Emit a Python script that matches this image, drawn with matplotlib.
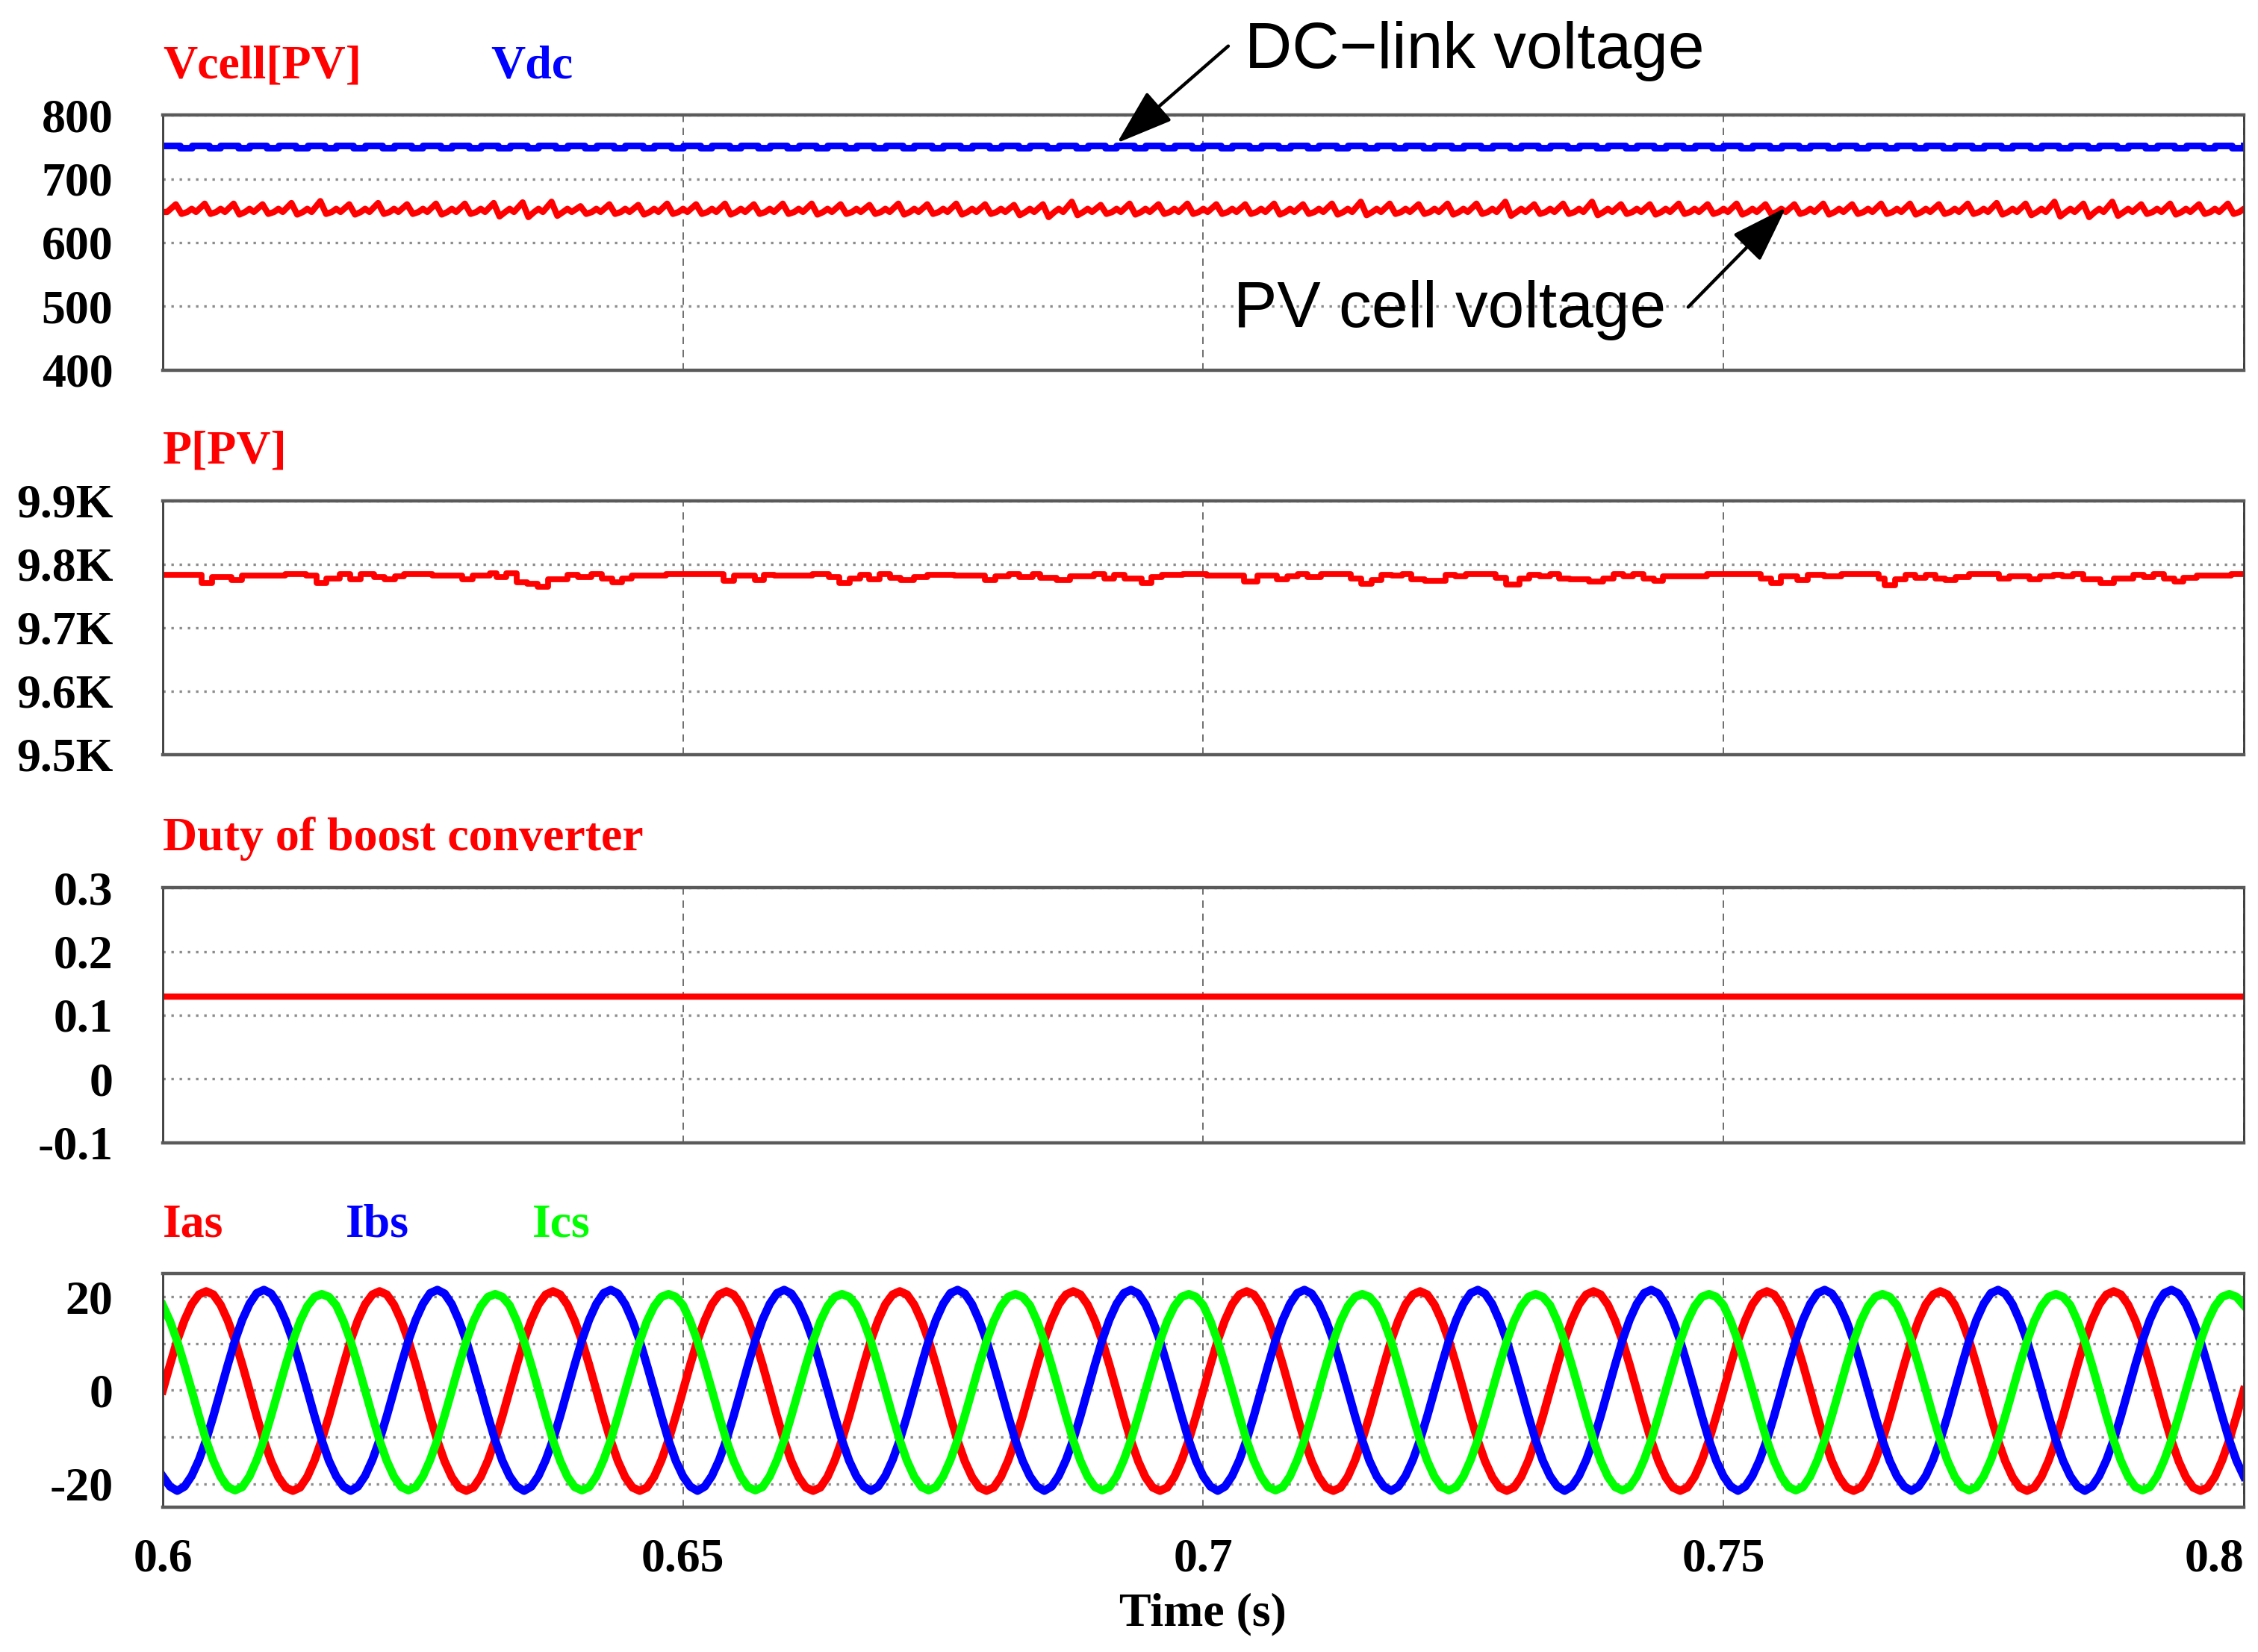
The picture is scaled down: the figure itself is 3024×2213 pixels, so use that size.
import numpy as np
import matplotlib
matplotlib.use("Agg")
import matplotlib.pyplot as plt

# Time window of the simulation plot
T_START = 0.6
T_END = 0.8
x_ticks = [0.6, 0.65, 0.7, 0.75, 0.8]
x_labels = ["0.6", "0.65", "0.7", "0.75", "0.8"]

# --- panel 1: DC-link and PV cell voltage (360 Hz ripple, one entry per ripple period)
RIPPLE_HZ = 360
vdc_levels = [751.5, 748.5]          # crenellated DC-link voltage
vcell_base = 648
vcell_bump = 653
vcell_first_peak = 0.60125
vcell_peak = [660, 661, 661, 660, 662, 665, 660, 662, 660, 661, 661, 662,
              663, 664, 657, 660, 659, 661, 660, 661, 660, 661, 661, 660,
              659, 661, 660, 661, 660, 659, 660, 664, 659, 661, 660, 661,
              660, 660, 661, 660, 661, 664, 661, 660, 661, 661, 664, 660,
              661, 664, 660, 660, 661, 660, 661, 660, 660, 661, 660, 661,
              661, 660, 661, 662, 661, 664, 661, 664, 660, 661, 660, 661]
vcell_dip = [645, 645, 644, 645, 644, 645, 644, 645, 645, 644, 645, 641,
             640, 642, 645, 645, 644, 645, 645, 644, 645, 645, 644, 645,
             645, 644, 645, 644, 645, 643, 640, 643, 645, 644, 645, 645,
             645, 645, 644, 645, 644, 643, 645, 645, 644, 645, 642, 645,
             645, 643, 645, 644, 645, 645, 644, 645, 645, 644, 645, 645,
             644, 645, 645, 644, 643, 641, 640, 642, 645, 644, 645, 645]
v_ticks = [400, 500, 600, 700, 800]

# annotation arrows (tail -> tip, data coordinates of panel 1)
dc_arrow_tail = (0.7024, 908)
dc_arrow_tip = (0.6917, 756)
dc_text_pos = (0.7040, 900)
pv_arrow_tail = (0.7466, 499)
pv_arrow_tip = (0.7560, 655)
pv_text_pos = (0.7445, 494)

# --- panel 2: PV power (step output of the MPPT sampler)
p_time = [0.6000, 0.6037, 0.6047, 0.6066, 0.6076, 0.6118, 0.6138, 0.6148, 0.6157, 0.6170,
          0.6180, 0.6190, 0.6203, 0.6213, 0.6223, 0.6232, 0.6259, 0.6288, 0.6298, 0.6314,
          0.6321, 0.6330, 0.6340, 0.6350, 0.6360, 0.6370, 0.6389, 0.6399, 0.6412, 0.6422,
          0.6432, 0.6441, 0.6451, 0.6484, 0.6539, 0.6549, 0.6569, 0.6578, 0.6588, 0.6624,
          0.6640, 0.6650, 0.6660, 0.6670, 0.6679, 0.6689, 0.6699, 0.6709, 0.6722, 0.6735,
          0.6761, 0.6790, 0.6800, 0.6813, 0.6823, 0.6836, 0.6843, 0.6859, 0.6872, 0.6895,
          0.6905, 0.6914, 0.6924, 0.6941, 0.6950, 0.6960, 0.6980, 0.7003, 0.7039, 0.7052,
          0.7071, 0.7081, 0.7091, 0.7100, 0.7113, 0.7142, 0.7152, 0.7162, 0.7171, 0.7181,
          0.7191, 0.7200, 0.7213, 0.7233, 0.7242, 0.7252, 0.7281, 0.7291, 0.7304, 0.7313,
          0.7323, 0.7333, 0.7342, 0.7352, 0.7371, 0.7384, 0.7394, 0.7404, 0.7413, 0.7423,
          0.7433, 0.7442, 0.7484, 0.7536, 0.7546, 0.7555, 0.7571, 0.7581, 0.7597, 0.7613,
          0.7649, 0.7655, 0.7665, 0.7675, 0.7684, 0.7694, 0.7704, 0.7713, 0.7723, 0.7736,
          0.7765, 0.7775, 0.7794, 0.7804, 0.7817, 0.7826, 0.7836, 0.7846, 0.7862, 0.7875,
          0.7894, 0.7904, 0.7913, 0.7923, 0.7933, 0.7942, 0.7955, 0.7988, 0.8000]
p_watt = [9784, 9771, 9780, 9775, 9782, 9785, 9782, 9770, 9778, 9785,
          9776, 9785, 9780, 9776, 9781, 9785, 9782, 9776, 9782, 9786,
          9780, 9786, 9772, 9769, 9765, 9776, 9784, 9780, 9785, 9778,
          9772, 9778, 9782, 9785, 9774, 9782, 9775, 9784, 9782, 9785,
          9780, 9770, 9778, 9784, 9776, 9785, 9779, 9775, 9780, 9784,
          9782, 9775, 9781, 9785, 9780, 9785, 9779, 9775, 9781, 9785,
          9778, 9783, 9778, 9770, 9780, 9783, 9785, 9782, 9773, 9782,
          9777, 9781, 9785, 9780, 9785, 9778, 9769, 9775, 9784, 9782,
          9785, 9777, 9774, 9784, 9781, 9785, 9779, 9768, 9778, 9784,
          9781, 9785, 9778, 9776, 9773, 9778, 9785, 9781, 9785, 9778,
          9774, 9781, 9785, 9778, 9770, 9781, 9775, 9784, 9781, 9785,
          9778, 9767, 9777, 9783, 9779, 9784, 9778, 9775, 9780, 9785,
          9778, 9781, 9776, 9781, 9784, 9781, 9785, 9776, 9770, 9778,
          9784, 9780, 9785, 9778, 9773, 9779, 9782, 9785, 9785]
p_ticks = [9500, 9600, 9700, 9800, 9900]
p_labels = ["9.5K", "9.6K", "9.7K", "9.8K", "9.9K"]

# --- panel 3: boost converter duty
duty_value = 0.129
d_ticks = [-0.1, 0, 0.1, 0.2, 0.3]
d_labels = ["-0.1", "0", "0.1", "0.2", "0.3"]

# --- panel 4: grid currents, one 60 Hz period (24 samples)
GRID_HZ = 60
N_CYCLES = 12
ias_cycle = [0, 5.5, 10.7, 15.0, 18.4, 20.5, 21.2, 20.5, 18.3, 14.9, 10.6, 5.5,
             0, -5.6, -10.8, -15.2, -18.6, -20.8, -21.5, -20.8, -18.5, -15.0, -10.6, -5.5]
ibs_cycle = [-18.4, -20.6, -21.5, -20.6, -18.3, -14.9, -10.6, -5.5, 0, 5.5, 10.7, 15.1,
             18.5, 20.8, 21.5, 20.7, 18.4, 14.9, 10.6, 5.4, 0, -5.5, -10.7, -15.1]
ics_cycle = [18.2, 14.8, 10.5, 5.4, 0, -5.5, -10.7, -15.1, -18.5, -20.7, -21.4, -20.7,
             -18.4, -14.9, -10.6, -5.4, 0, 5.4, 10.5, 14.8, 18.0, 20.0, 20.6, 20.0]
i_ticks = [-20, -10, 0, 10, 20]
i_labels = ["-20", "", "0", "", "20"]

RED = "#ff0000"
BLUE = "#0000ff"
GREEN = "#00ff00"

SERIF = "Liberation Serif"
SANS = "Liberation Sans"
TICK_SIZE = 23

# build the plotted series from the values above
T_rip = 1.0 / RIPPLE_HZ
vc_t, vc_v = [T_START], [vcell_base]
for k, (pk, dp) in enumerate(zip(vcell_peak, vcell_dip)):
    tp = vcell_first_peak + k * T_rip
    vc_t += [tp - 0.3 * T_rip, tp, tp + 0.2 * T_rip, tp + 0.4 * T_rip,
             tp + 0.55 * T_rip, tp + 0.7 * T_rip]
    vc_v += [vcell_base, pk, dp, vcell_base, vcell_bump, vcell_base]

vdc_t, vdc_v = [], []
for k in range(len(vcell_peak)):
    t0 = T_START + k * T_rip
    vdc_t += [t0, t0 + 0.6 * T_rip]
    vdc_v += vdc_levels
vdc_t.append(T_END)
vdc_v.append(vdc_levels[0])

n_per = len(ias_cycle)
t_cur = T_START + np.arange(n_per * N_CYCLES + 1) / (GRID_HZ * n_per)
ias = np.append(np.tile(ias_cycle, N_CYCLES), ias_cycle[0])
ibs = np.append(np.tile(ibs_cycle, N_CYCLES), ibs_cycle[0])
ics = np.append(np.tile(ics_cycle, N_CYCLES), ics_cycle[0])


def style_axes(ax, ticks, labels, ylim):
    """Common look of the four scope panels"""
    ax.set_xlim(T_START, T_END)
    ax.set_ylim(*ylim)
    ax.set_xticks(x_ticks)
    ax.set_yticks(ticks)
    ax.set_yticklabels(labels)
    ax.tick_params(length=0, pad=24, labelsize=TICK_SIZE)
    ax.tick_params(axis="x", pad=15)
    for lab in ax.get_xticklabels() + ax.get_yticklabels():
        lab.set_fontfamily(SERIF)
        lab.set_fontweight("bold")
    ax.set_axisbelow(True)
    ax.grid(axis="y", color="#8c8c8c", linestyle=(0, (1, 2.3)), linewidth=1.2)
    ax.grid(axis="x", color="#6e6e6e", linestyle=(0, (5, 4)), linewidth=0.7)
    for side in ("top", "bottom"):
        ax.spines[side].set_color("#5a5a5a")
        ax.spines[side].set_linewidth(1.6)
    for side in ("left", "right"):
        ax.spines[side].set_color("#3a3a3a")
        ax.spines[side].set_linewidth(1.0)


def panel_title(ax, text, color, dx=0):
    ax.annotate(text, xy=(0, 1), xycoords="axes fraction", xytext=(dx, 18),
                textcoords="offset points", ha="left", va="baseline",
                color=color, fontsize=TICK_SIZE, fontfamily=SERIF, fontweight="bold")


def arrow(ax, tail, tip):
    ax.annotate("", xy=tip, xytext=tail, annotation_clip=False,
                arrowprops=dict(arrowstyle="-|>,head_length=0.95,head_width=0.32",
                                color="black", lw=1.6, mutation_scale=25,
                                shrinkA=0, shrinkB=0))


fig = plt.figure(figsize=(15.12, 11.065), dpi=200)
left, width = 0.0721, 0.9216
ax1 = fig.add_axes([left, 0.7759, width, 0.1545])
ax2 = fig.add_axes([left, 0.5432, width, 0.1536])
ax3 = fig.add_axes([left, 0.3082, width, 0.1545])
ax4 = fig.add_axes([left, 0.0877, width, 0.1414])

# panel 1
ax1.plot(vc_t, vc_v, color=RED, lw=3.0)
ax1.step(vdc_t, vdc_v, where="post", color=BLUE, lw=3.2)
style_axes(ax1, v_ticks, [str(v) for v in v_ticks], (400, 800))
panel_title(ax1, "Vcell[PV]", RED)
panel_title(ax1, "Vdc", BLUE, dx=158)
arrow(ax1, dc_arrow_tail, dc_arrow_tip)
arrow(ax1, pv_arrow_tail, pv_arrow_tip)
ax1.text(*dc_text_pos, "DC\u2212link voltage", ha="left", va="center",
         fontsize=31.5, fontfamily=SANS, clip_on=False)
ax1.text(*pv_text_pos, "PV cell voltage", ha="right", va="center",
         fontsize=31.5, fontfamily=SANS, clip_on=False)

# panel 2
ax2.step(p_time, p_watt, where="post", color=RED, lw=2.8)
style_axes(ax2, p_ticks, p_labels, (9500, 9900))
panel_title(ax2, "P[PV]", RED)

# panel 3
ax3.plot([T_START, T_END], [duty_value, duty_value], color=RED, lw=3.0)
style_axes(ax3, d_ticks, d_labels, (-0.1, 0.3))
panel_title(ax3, "Duty of boost converter", RED)

# panel 4
ax4.plot(t_cur, ias, color=RED, lw=4)
ax4.plot(t_cur, ibs, color=BLUE, lw=4)
ax4.plot(t_cur, ics, color=GREEN, lw=4)
style_axes(ax4, i_ticks, i_labels, (-25, 25))
panel_title(ax4, "Ias", RED)
panel_title(ax4, "Ibs", BLUE, dx=88)
panel_title(ax4, "Ics", GREEN, dx=178)

for ax in (ax1, ax2, ax3):
    ax.tick_params(labelbottom=False)
ax4.set_xticklabels(x_labels)
for lab in ax4.get_xticklabels():
    lab.set_fontfamily(SERIF)
    lab.set_fontweight("bold")
ax4.get_xticklabels()[-1].set_horizontalalignment("right")

fig.text(0.5327, 0.023, "Time (s)", ha="center", va="center",
         fontsize=TICK_SIZE, fontfamily=SERIF, fontweight="bold")

fig.savefig("out.png", dpi=200, facecolor="white")
